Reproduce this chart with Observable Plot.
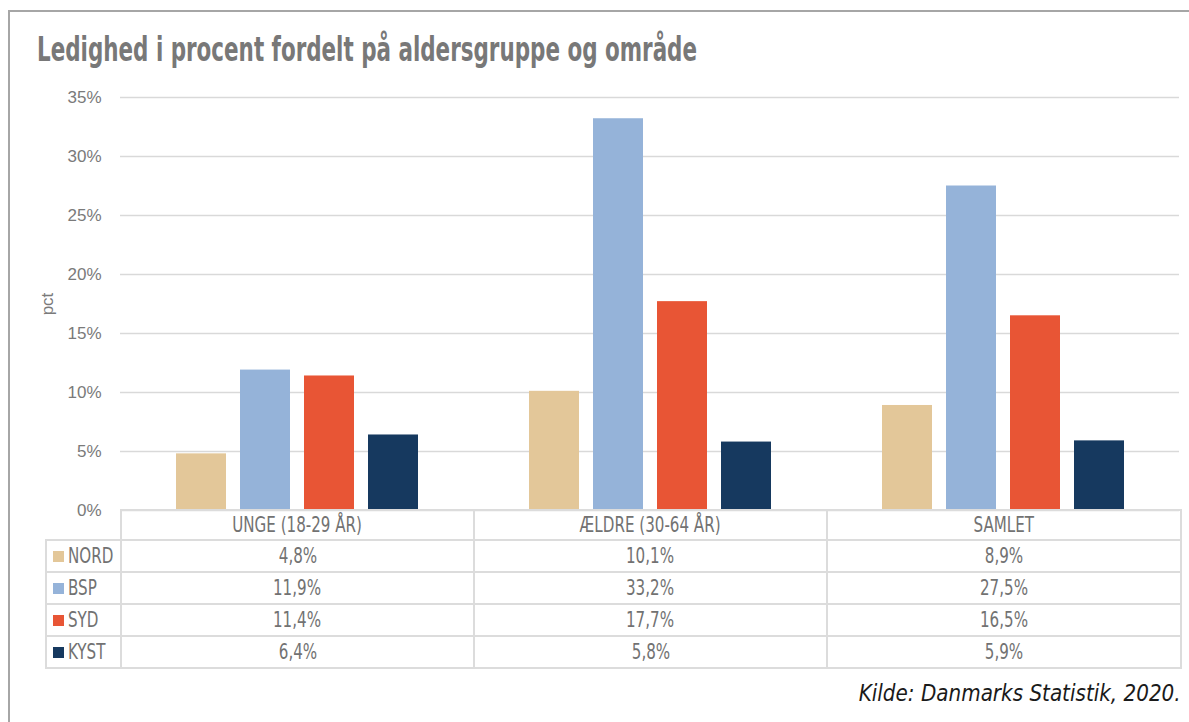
<!DOCTYPE html>
<html>
<head>
<meta charset="utf-8">
<script src="https://cdn.jsdelivr.net/npm/d3@7"></script>
<script src="https://cdn.jsdelivr.net/npm/@observablehq/plot@0.6"></script>
<style>
  html, body { margin: 0; padding: 0; background: #fff; }
  body { width: 1189px; height: 722px; position: relative; overflow: hidden; }
  .frame { position: absolute; left: 8px; top: 10px; width: 1200px; height: 730px;
           border-left: 2px solid #a6a6a6; border-top: 2px solid #a6a6a6; box-sizing: border-box; }
  .narrow { font-family: "DejaVu Sans Condensed", "Liberation Sans Narrow", sans-serif; font-stretch: condensed; }
  #title { position: absolute; left: 37px; top: 30px; font-size: 33px; font-weight: bold; color: #787878; white-space: nowrap; transform-origin: left top; }
  #chart { position: absolute; left: 0; top: 80px; }
  #table { position: absolute; left: 45px; top: 509px; width: 1135px; table-layout: fixed; border-collapse: collapse; color: #727272; font-size: 21px; }
  #table td { border: 2px solid #dcdcdc; text-align: center; padding: 0; height: 30px; line-height: 30px; overflow: visible; }
  #table tr.head td { height: 28px; line-height: 28px; }
  #table td.blank { border: none; border-bottom: 2px solid #dcdcdc; }
  #table td.lab { text-align: left; padding-left: 6px; white-space: nowrap; }
  #table .t { display: inline-block; transform: scaleX(0.8); transform-origin: center; white-space: nowrap; }
  #table td.lab .t { transform-origin: left center; }
  #table .sw { display: inline-block; width: 11px; height: 11px; margin-right: 4px; vertical-align: 1px; }
  #caption { position: absolute; right: 8px; top: 680px; font-size: 23px; font-style: italic; color: #1a1a1a; white-space: nowrap; transform-origin: right top; }
</style>
</head>
<body>
<div class="frame"></div>
<div id="title" class="narrow">Ledighed i procent fordelt på aldersgruppe og område</div>
<div id="chart"></div>
<table id="table" class="narrow"></table>
<div id="caption" class="narrow">Kilde: Danmarks Statistik, 2020.</div>
<script>
const groups = ["UNGE (18-29 ÅR)", "ÆLDRE (30-64 ÅR)", "SAMLET"];
const regions = ["NORD", "BSP", "SYD", "KYST"];
const colors = ["#e3c799", "#95b3d9", "#e85535", "#16395f"];
const nordValues = [4.8, 10.1, 8.9];
const bspValues = [11.9, 33.2, 27.5];
const sydValues = [11.4, 17.7, 16.5];
const kystValues = [6.4, 5.8, 5.9];
const yTicks = [0, 5, 10, 15, 20, 25, 30, 35];

const seriesValues = [nordValues, bspValues, sydValues, kystValues];
const data = [];
groups.forEach((g, gi) => regions.forEach((r, ri) => data.push({group: g, region: r, value: seriesValues[ri][gi]})));

const chart = Plot.plot({
  width: 1189,
  height: 440,
  marginTop: 17,
  marginBottom: 10,
  marginLeft: 120,
  marginRight: 10,
  style: {fontFamily: "Liberation Sans, Arial, sans-serif", color: "#7a7a7a", background: "transparent"},
  fx: {domain: groups, padding: 0, axis: null, label: null},
  x: {domain: regions, paddingInner: 0.21875, paddingOuter: 0.867, axis: null},
  y: {domain: [0, 35]},
  color: {domain: regions, range: colors},
  marks: [
    Plot.gridY(yTicks, {stroke: "#d9d9d9", strokeOpacity: 1, strokeWidth: 1.5}),
    Plot.barY(data, {fx: "group", x: "region", y: "value", fill: "region"}),
    Plot.axisY({ticks: yTicks, tickFormat: d => d + "%", tickSize: 0, tickPadding: 19, fontSize: 17, label: null}),
    Plot.axisY({ticks: [], tickSize: 0, fontSize: 17,
      label: "pct", labelAnchor: "center", labelArrow: "none", labelOffset: 80})
  ]
});
chart.querySelectorAll("text").forEach(t => { if (t.textContent === "pct") t.setAttribute("font-size", 17); });
document.getElementById("chart").appendChild(chart);

const fmt = v => String(v.toFixed(1)).replace(".", ",") + "%";
const table = document.getElementById("table");
let html = '<colgroup><col style="width:75px"><col style="width:353px"><col style="width:353px"><col style="width:354px"></colgroup>';
html += '<tr class="head"><td class="blank"></td>' +
  groups.map(g => `<td><span class="t">${g}</span></td>`).join("") + '</tr>';
regions.forEach((r, ri) => {
  html += `<tr><td class="lab"><span class="sw" style="background:${colors[ri]}"></span><span class="t">${r}</span></td>` +
    seriesValues[ri].map(v => `<td><span class="t">${fmt(v)}</span></td>`).join("") + '</tr>';
});
table.innerHTML = html;

function fitWidth(el, target) {
  const w = el.getBoundingClientRect().width;
  el.style.transform = `scaleX(${target / w})`;
}
fitWidth(document.getElementById("title"), 660);
fitWidth(document.getElementById("caption"), 322);
</script>
</body>
</html>
